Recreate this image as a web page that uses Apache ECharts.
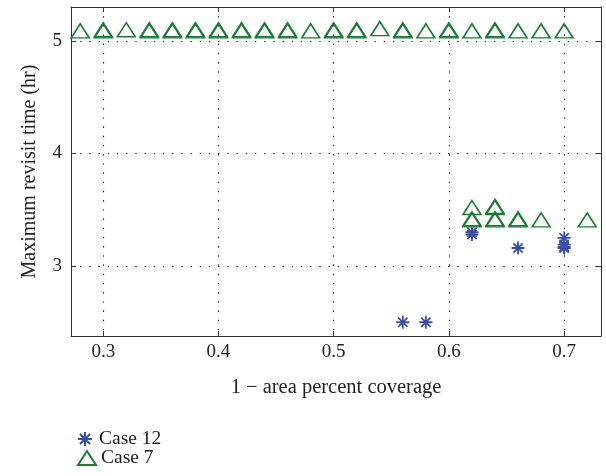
<!DOCTYPE html>
<html>
<head>
<meta charset="utf-8">
<script src="https://cdn.jsdelivr.net/npm/echarts@6/dist/echarts.min.js"></script>
<style>
html,body{margin:0;padding:0;background:#fff;}
#chart{width:606px;height:476px;}
</style>
</head>
<body>
<div id="chart"></div>
<script>
const xTicks = [0.3, 0.4, 0.5, 0.6, 0.7];
const yTicks = [3, 4, 5];

const case7X = [0.28, 0.30, 0.30, 0.32, 0.34, 0.34, 0.36, 0.36, 0.38, 0.38, 0.40, 0.40,
  0.42, 0.42, 0.44, 0.44, 0.46, 0.46, 0.48, 0.50, 0.50, 0.52, 0.52, 0.54, 0.56, 0.56,
  0.58, 0.60, 0.60, 0.62, 0.64, 0.64, 0.66, 0.68, 0.70,
  0.62, 0.62, 0.62, 0.64, 0.64, 0.64, 0.64, 0.66, 0.66, 0.68, 0.72];
const case7Y = [5.09, 5.09, 5.10, 5.10, 5.09, 5.10, 5.09, 5.10, 5.09, 5.10, 5.09, 5.10,
  5.09, 5.10, 5.09, 5.10, 5.09, 5.10, 5.09, 5.09, 5.10, 5.09, 5.10, 5.11, 5.09, 5.10,
  5.09, 5.09, 5.10, 5.09, 5.09, 5.10, 5.09, 5.09, 5.09,
  3.52, 3.41, 3.42, 3.52, 3.53, 3.41, 3.42, 3.41, 3.42, 3.41, 3.41];

const case12X = [0.56, 0.58, 0.62, 0.62, 0.66, 0.70, 0.70, 0.70, 0.70];
const case12Y = [2.50, 2.50, 3.28, 3.30, 3.16, 3.25, 3.19, 3.17, 3.16];

const xMin = 0.272, xMax = 0.732;
const yMin = 2.378, yMax = 5.302;

const font = '"Liberation Serif", "DejaVu Serif", serif';
const axisColor = '#333';
const blue = '#3a4fa8';
const green = '#1b7a32';
const starPath = 'path://M0,-6L0,6M-6,0L6,0M-4.3,-4.3L4.3,4.3M-4.3,4.3L4.3,-4.3';

function zip(a, b) { return a.map((v, i) => [v, b[i]]); }

const chart = echarts.init(document.getElementById('chart'), null, {renderer: 'canvas'});

const baseAxis = {
  axisLine: {show: true, lineStyle: {color: axisColor, width: 1}},
  axisTick: {show: true, inside: true, length: 5, lineStyle: {color: axisColor}},
  splitLine: {show: false}
};
const gridLine = {show: true, lineStyle: {color: '#000', width: 1.2, type: [1.2, 8]}};
const legendBase = {
  orient: 'vertical', left: 72, itemWidth: 18, itemHeight: 14,
  textStyle: {fontFamily: font, fontSize: 19.5, color: '#222'}
};

chart.setOption({
  animation: false,
  grid: {left: 71, right: 5, top: 7, bottom: 140},
  legend: [
    Object.assign({}, legendBase, {top: 424, data: ['Case 12']}),
    Object.assign({}, legendBase, {top: 443, data: ['Case 7']})
  ],
  xAxis: [
    Object.assign({}, baseAxis, {
      type: 'value', min: xMin, max: xMax, position: 'bottom',
      axisTick: Object.assign({}, baseAxis.axisTick, {customValues: xTicks}),
      axisLabel: {customValues: xTicks, fontFamily: font, fontSize: 19, color: '#222', margin: 7,
        formatter: v => v.toFixed(1)},
      splitLine: gridLine,
      name: '1 \u2212 area percent coverage',
      nameLocation: 'middle', nameGap: 41,
      nameTextStyle: {fontFamily: font, fontSize: 20.5, color: '#222'}
    }),
    Object.assign({}, baseAxis, {
      type: 'value', min: xMin, max: xMax, position: 'top',
      axisTick: Object.assign({}, baseAxis.axisTick, {customValues: xTicks}),
      axisLabel: {show: false}
    })
  ],
  yAxis: [
    Object.assign({}, baseAxis, {
      type: 'value', min: yMin, max: yMax, position: 'left',
      axisTick: Object.assign({}, baseAxis.axisTick, {customValues: yTicks}),
      axisLabel: {customValues: yTicks, fontFamily: font, fontSize: 19, color: '#222', margin: 9},
      splitLine: gridLine,
      name: 'Maximum revisit time (hr)',
      nameLocation: 'middle', nameGap: 31,
      nameTextStyle: {fontFamily: font, fontSize: 20, color: '#222'}
    }),
    Object.assign({}, baseAxis, {
      type: 'value', min: yMin, max: yMax, position: 'right',
      axisTick: Object.assign({}, baseAxis.axisTick, {customValues: yTicks}),
      axisLabel: {show: false}
    })
  ],
  series: [
    {
      name: 'Case 12', type: 'scatter',
      data: zip(case12X, case12Y),
      symbol: starPath, symbolSize: 13,
      itemStyle: {color: blue, borderColor: blue, borderWidth: 1.8, opacity: 1}
    },
    {
      name: 'Case 7', type: 'scatter',
      data: zip(case7X, case7Y),
      symbol: 'triangle', symbolSize: [18, 14],
      itemStyle: {color: 'rgba(0,0,0,0)', borderColor: green, borderWidth: 1.5, opacity: 1}
    }
  ]
});
</script>
</body>
</html>
